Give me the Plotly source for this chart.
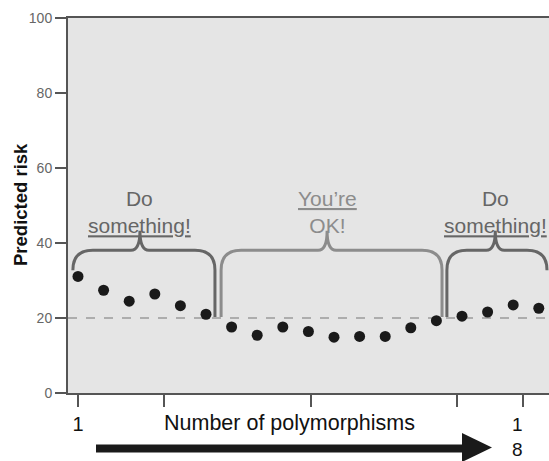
import plotly.graph_objects as go

# ---- data ----
positions = list(range(1, 20))
risk = [31.1, 27.4, 24.5, 26.4, 23.3, 21.0, 17.6, 15.4, 17.6, 16.4,
        14.9, 15.1, 15.1, 17.4, 19.3, 20.5, 21.6, 23.5, 22.6]
threshold = 20
y_ticks = [0, 20, 40, 60, 80, 100]
x_ticks = [1, 4.36, 10.1, 15.8, 18.4]
x_ticktext = ["1", "", "", "", ""]
groups = [  # (x start, x end, cusp x, y start, y end, label, colour)
    (0.80, 6.35, 3.42, 32.8, 20.3, "Do<br><u>something!</u>", "#666666"),
    (6.59, 15.22, 10.73, 20.3, 20.3, "<u>You\u2019re</u><br>OK!", "#8c8c8c"),
    (15.41, 19.32, 17.30, 20.3, 32.8, "Do<br><u>something!</u>", "#666666"),
]

FONT = "Arial, Liberation Sans, sans-serif"
PX_X = 25.6   # px per x unit
PX_Y = 3.75   # px per y unit

def brace_path(x0, x1, xc, ys0, ys1, yh=38.1, ytip=43.3):
    rx, ry = 20 / PX_X, 20 / PX_Y
    cx = 9 / PX_X
    p = f"M {x0},{ys0} L {x0},{yh-ry} Q {x0},{yh} {x0+rx},{yh} "
    p += f"L {xc-cx},{yh} Q {xc},{yh} {xc},{ytip} "
    p += f"Q {xc},{yh} {xc+cx},{yh} L {x1-rx},{yh} "
    p += f"Q {x1},{yh} {x1},{yh-ry} L {x1},{ys1}"
    return p

fig = go.Figure()
fig.add_trace(go.Scatter(x=positions, y=risk, mode="markers",
                         marker=dict(color="#1a1a1a", size=11),
                         showlegend=False, hoverinfo="skip"))

shapes = [dict(type="line", xref="paper", yref="y", x0=0, x1=1,
               y0=threshold, y1=threshold,
               line=dict(color="#9a9a9a", width=1.5, dash="dash"), layer="below")]
annotations = []
for x0, x1, xc, ys0, ys1, label, col in groups:
    shapes.append(dict(type="path", xref="x", yref="y",
                       path=brace_path(x0, x1, xc, ys0, ys1),
                       line=dict(color=col, width=3)))
    annotations.append(dict(x=xc, y=48.3, xref="x", yref="y", text=label,
                            showarrow=False, xanchor="center", yanchor="middle",
                            font=dict(family=FONT, size=21, color=col)))

# helper: pixel -> paper coords for decorations outside the plot
L, R, T, B = 68, 549, 18, 393
def px(xp):
    return (xp - L) / (R - L)
def py(yp):
    return (B - yp) / (B - T)

# arrow
shapes.append(dict(type="rect", xref="paper", yref="paper",
                   x0=px(96), x1=px(465), y0=py(452.5), y1=py(444.5),
                   fillcolor="#1a1a1a", line=dict(width=0)))
shapes.append(dict(type="path", xref="paper", yref="paper",
                   path=f"M {px(462)},{py(433)} L {px(492)},{py(447.5)} L {px(462)},{py(462)} Z",
                   fillcolor="#1a1a1a", line=dict(width=0)))

annotations += [
    dict(x=px(289), y=py(423), xref="paper", yref="paper",
         xanchor="center", yanchor="middle",
         text="Number of polymorphisms", showarrow=False,
         font=dict(family=FONT, size=21.5, color="#111111")),
    dict(x=px(517), y=py(437), xref="paper", yref="paper",
         xanchor="center", yanchor="middle",
         text="1<br>8", showarrow=False,
         font=dict(family=FONT, size=19, color="#111111")),
    dict(x=px(20), y=py(205), xref="paper", yref="paper",
         xanchor="center", yanchor="middle",
         text="<b>Predicted risk</b>", showarrow=False, textangle=-90,
         font=dict(family=FONT, size=18.5, color="#111111")),
]

x_lo = 1 - (78 - L) / PX_X
x_hi = 1 + (R - 78) / PX_X
fig.update_layout(
    width=549, height=461,
    margin=dict(l=L, r=549 - R, t=T, b=461 - B),
    paper_bgcolor="white", plot_bgcolor="#e5e5e5",
    shapes=shapes, annotations=annotations,
    xaxis=dict(range=[x_lo, x_hi], tickvals=x_ticks, ticktext=x_ticktext,
               ticks="outside", ticklen=12, tickwidth=2, tickcolor="#555555",
               showgrid=False, zeroline=False, showline=True, mirror=True,
               linecolor="#555555", linewidth=2,
               tickfont=dict(family=FONT, size=20, color="#111111")),
    yaxis=dict(range=[0, 100], tickvals=y_ticks, ticks="outside", ticklen=11,
               tickwidth=2, tickcolor="#555555", showgrid=False, zeroline=False,
               showline=True, linecolor="#555555", linewidth=2,
               tickfont=dict(family=FONT, size=14, color="#666666")),
)
fig.write_html("out.html", config={"displayModeBar": False},
               post_script="document.body.style.margin='0';document.body.style.overflow='hidden';")
